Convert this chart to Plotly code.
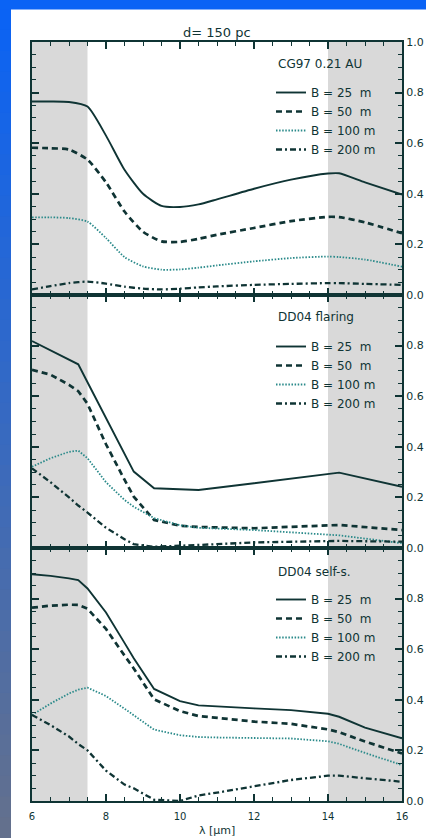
import plotly.graph_objects as go
from plotly.subplots import make_subplots

# ---- data -------------------------------------------------------------
baselines = ["B = 25\u00a0\u00a0m", "B = 50\u00a0\u00a0m", "B = 100 m", "B = 200 m"]
panel_labels = ["CG97 0.21 AU", "DD04 flaring", "DD04 self-s."]

# CG97 0.21 AU
wl_cg97 = [6.0, 6.5, 7.0, 7.5, 8.0, 8.5, 9.0, 9.5, 10.0, 10.5, 11.0, 12.0, 13.0, 14.0, 14.3, 15.0, 16.0]
cg97_b25 = [0.765, 0.765, 0.763, 0.745, 0.630, 0.495, 0.400, 0.352, 0.348, 0.358, 0.378, 0.420, 0.456, 0.480, 0.481, 0.445, 0.397]
cg97_b50 = [0.582, 0.580, 0.575, 0.535, 0.445, 0.330, 0.250, 0.212, 0.210, 0.222, 0.238, 0.265, 0.292, 0.309, 0.308, 0.287, 0.244]
cg97_b100 = [0.307, 0.307, 0.304, 0.290, 0.225, 0.150, 0.113, 0.100, 0.101, 0.108, 0.117, 0.133, 0.146, 0.152, 0.150, 0.140, 0.112]
cg97_b200 = [0.022, 0.035, 0.047, 0.053, 0.045, 0.033, 0.025, 0.022, 0.025, 0.030, 0.034, 0.040, 0.044, 0.047, 0.047, 0.044, 0.040]

# DD04 flaring
wl_fl = [6.0, 6.5, 7.0, 7.25, 7.5, 8.0, 8.5, 8.75, 9.3, 10.0, 10.5, 12.0, 14.3, 16.0]
fl_b25 = [0.818, 0.781, 0.744, 0.726, 0.655, 0.514, 0.373, 0.302, 0.236, 0.231, 0.229, 0.256, 0.298, 0.242]
fl_b50 = [0.704, 0.685, 0.645, 0.620, 0.570, 0.410, 0.270, 0.203, 0.111, 0.088, 0.083, 0.078, 0.091, 0.071]
fl_b100 = [0.321, 0.355, 0.380, 0.385, 0.355, 0.260, 0.190, 0.163, 0.118, 0.090, 0.080, 0.071, 0.050, 0.019]
fl_b200 = [0.315, 0.260, 0.200, 0.168, 0.140, 0.080, 0.035, 0.015, 0.005, 0.008, 0.012, 0.022, 0.028, 0.025]

# DD04 self-shadowed
wl_ss = [6.0, 6.5, 7.0, 7.25, 7.5, 8.0, 8.5, 8.75, 9.3, 10.0, 10.5, 11.0, 12.0, 13.0, 14.0, 14.3, 15.0, 16.0]
ss_b25 = [0.896, 0.890, 0.880, 0.873, 0.840, 0.745, 0.625, 0.564, 0.443, 0.395, 0.378, 0.373, 0.366, 0.359, 0.345, 0.333, 0.290, 0.248]
ss_b50 = [0.764, 0.772, 0.776, 0.775, 0.760, 0.680, 0.575, 0.524, 0.402, 0.355, 0.336, 0.328, 0.314, 0.305, 0.283, 0.272, 0.235, 0.188]
ss_b100 = [0.340, 0.385, 0.425, 0.440, 0.448, 0.415, 0.365, 0.340, 0.282, 0.260, 0.253, 0.251, 0.250, 0.247, 0.236, 0.226, 0.190, 0.142]
ss_b200 = [0.340, 0.300, 0.255, 0.225, 0.200, 0.120, 0.065, 0.050, 0.005, 0.000, 0.022, 0.033, 0.058, 0.083, 0.100, 0.100, 0.090, 0.076]

shaded_bands = [(6.0, 7.5), (14.0, 16.0)]
x_ticks = [6, 8, 10, 12, 14, 16]
y_ticks_top = [0.0, 0.2, 0.4, 0.6, 0.8, 1.0]
y_ticks_low = [0.0, 0.2, 0.4, 0.6, 0.8]

# ---- styling ----------------------------------------------------------
INK = "#0f3434"
DOT_INK = "#2a8a8a"
FONT = "DejaVu Sans"
styles = [
    dict(color=INK, width=1.9, dash="solid"),
    dict(color=INK, width=2.7, dash="6px,4px"),
    dict(color=DOT_INK, width=1.8, dash="1.5px,1.6px"),
    dict(color=INK, width=2.3, dash="6px,3px,2px,3px"),
]

W, H = 426, 838
ML, MR, MT, MB = 32, 24, 42, 37
PW, PH = W - ML - MR, H - MT - MB


def px_to_paper(px, py):
    return (px - ML) / PW, (H - MB - py) / PH


fig = make_subplots(rows=3, cols=1, shared_xaxes=True, vertical_spacing=0)

panels = [
    (wl_cg97, [cg97_b25, cg97_b50, cg97_b100, cg97_b200], "spline"),
    (wl_fl, [fl_b25, fl_b50, fl_b100, fl_b200], "linear"),
    (wl_ss, [ss_b25, ss_b50, ss_b100, ss_b200], "linear"),
]
legend_names = ["legend", "legend2", "legend3"]

for r, (wl, series, shape) in enumerate(panels, start=1):
    for name, vals, st in zip(baselines, series, styles):
        fig.add_trace(
            go.Scatter(
                x=wl, y=vals, mode="lines", name=name,
                line=dict(color=st["color"], width=st["width"], dash=st["dash"],
                          shape=shape, smoothing=0.6 if shape == "spline" else None),
                legend=legend_names[r - 1],
            ),
            row=r, col=1,
        )

# background: gradient strip on the left, blue band on top
def blend(c0, c1, t):
    return "rgb(%d,%d,%d)" % tuple(round(a + (b - a) * t) for a, b in zip(c0, c1))

top_rgb, bot_rgb = (10, 99, 245), (100, 112, 140)
shapes = []
n = 40
for i in range(n):
    y_top = 9 + (H - 9) * i / n
    y_bot = 9 + (H - 9) * (i + 1) / n + 1
    x0, y0 = px_to_paper(0, y_bot)
    x1, y1 = px_to_paper(11, y_top)
    shapes.append(dict(type="rect", xref="paper", yref="paper", x0=x0, x1=x1, y0=y0, y1=y1,
                       fillcolor=blend(top_rgb, bot_rgb, (i + 0.5) / n), line=dict(width=0), layer="below"))
x0, y0 = px_to_paper(0, 9.5)
x1, y1 = px_to_paper(W, 0)
shapes.append(dict(type="rect", xref="paper", yref="paper", x0=x0, x1=x1, y0=y0, y1=y1,
                   fillcolor=blend(top_rgb, bot_rgb, 0), line=dict(width=0), layer="below"))

for a, b in shaded_bands:
    shapes.append(dict(type="rect", xref="x", yref="paper", x0=a, x1=b, y0=0, y1=1,
                       fillcolor="#d9d9d9", line=dict(width=0), layer="below"))

annotations = []
tx, ty = px_to_paper(217, 32)
annotations.append(dict(text="d= 150 pc", x=tx, y=ty, xref="paper", yref="paper",
                        showarrow=False, font=dict(family=FONT, size=13, color=INK),
                        xanchor="center", yanchor="middle"))
ax_, ay_ = px_to_paper(217, 830)
annotations.append(dict(text="\u03bb [\u03bcm]", x=ax_, y=ay_, xref="paper", yref="paper",
                        showarrow=False, font=dict(family=FONT, size=11, color=INK),
                        xanchor="center", yanchor="middle"))
label_y = [64, 317, 572]
for lab, py in zip(panel_labels, label_y):
    lx, ly = px_to_paper(276, py)
    annotations.append(dict(text=lab, x=lx, y=ly, xref="paper", yref="paper",
                            showarrow=False, font=dict(family=FONT, size=12, color=INK),
                            xanchor="left", yanchor="middle"))

axis_common = dict(
    showline=True, linecolor=INK, linewidth=2, mirror="allticks",
    ticks="inside", tickcolor=INK, tickwidth=1.5, ticklen=7,
    showgrid=False, zeroline=False, automargin=False,
    tickfont=dict(family=FONT, size=11, color=INK),
)

for r in range(1, 4):
    fig.update_xaxes(
        range=[6, 16], tickvals=x_ticks,
        minor=dict(dtick=0.5, tick0=6, ticks="inside", ticklen=4, tickwidth=1, tickcolor=INK),
        row=r, col=1, **axis_common,
    )
    fig.update_yaxes(
        range=[0, 1], side="right",
        tickvals=y_ticks_top if r == 1 else y_ticks_low, tickformat=".1f",
        minor=dict(dtick=0.05, tick0=0, ticks="inside", ticklen=4, tickwidth=1, tickcolor=INK),
        row=r, col=1, **axis_common,
    )

fig.update_xaxes(ticklabelstandoff=5, tickfont=dict(family=FONT, size=10, color=INK), row=3, col=1)

legend_rows = [89, 343, 596]
legends = {}
for key, py in zip(legend_names, legend_rows):
    lx, ly = px_to_paper(271, py - 11)
    legends[key] = dict(x=lx, y=ly, xanchor="left", yanchor="top", xref="paper", yref="paper",
                        bgcolor="rgba(0,0,0,0)", borderwidth=0, itemwidth=30,
                        font=dict(family=FONT, size=12, color=INK), tracegroupgap=0,
                        traceorder="normal")

fig.update_layout(
    width=W, height=H,
    margin=dict(l=ML, r=MR, t=MT, b=MB, autoexpand=False),
    paper_bgcolor="white", plot_bgcolor="white",
    showlegend=True,
    shapes=shapes, annotations=annotations,
    **legends,
)

fig.write_html("out.html")
